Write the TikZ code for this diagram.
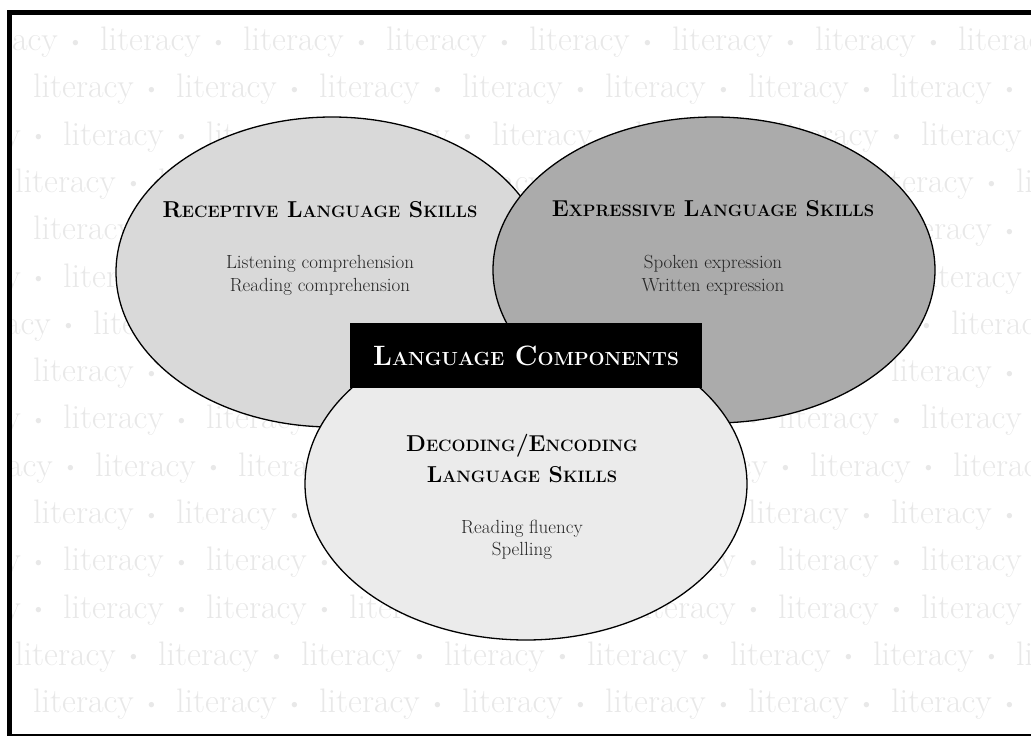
\documentclass[tikz,border=0pt]{standalone}
\usetikzlibrary{shapes.geometric}
\definecolor{litgray}{gray}{0.91}
\definecolor{recgray}{gray}{0.85}
\definecolor{expgray}{gray}{0.67}
\definecolor{decgray}{gray}{0.92}
% one repeated background word, with its bullet
\newcommand\litdot{\raisebox{1.5pt}{\fontsize{24}{24}\selectfont\textbullet}}
\newcommand\litword{\makebox[143pt][l]{literacy\hspace{9pt}\litdot}}
\newcommand\litrow{\litword\litword\litword\litword\litword\litword\litword\litword\litword}
% capital followed by smaller capitals
\newcommand\sk[2]{#1{\fontsize{16.5}{20}\selectfont#2}}
\newcommand\bigsk[2]{#1{\fontsize{19}{24}\selectfont#2}}
\begin{document}
\begin{tikzpicture}[x=1pt,y=-1pt,
    venn/.style={ellipse,draw,line width=1.3pt,inner sep=0pt},
    headtxt/.style={align=center,font=\fontsize{23}{31}\selectfont\bfseries},
    itemtxt/.style={align=center,text=black!85,font=\fontsize{19}{23}\selectfont}]
    \useasboundingbox (0,0) rectangle (1031,736);
    % background of repeated words
    \begin{scope}
        \clip (10,12) rectangle (1031,736);
        \foreach \off [count=\k] in {100,33,63,15,33,63,93,33,63,95,33,63,63,15,33}
            \node[anchor=base west,inner sep=0pt,text=litgray,font=\fontsize{34}{34}\selectfont]%
            (row\k) at (\off-143,50.5+47.3*\k-47.3) {\litrow};
    \end{scope}
    \draw[line width=4.5pt] (9.5,12.5) rectangle (1045,736);
    % the three skill areas
    \node[venn,fill=recgray,minimum width=432,minimum height=310] (rec) at (332,272) {};
    \node[venn,fill=expgray,minimum width=442,minimum height=306] (expr) at (714,270) {};
    \node[venn,fill=decgray,minimum width=442,minimum height=312] (dec) at (526,484) {};
    \node[fill=black,text=white,inner sep=0pt,minimum width=352,minimum height=65,%
        font=\fontsize{28}{34}\selectfont\bfseries] (comp) at (526,355.5)
        {\bigsk{L}{ANGUAGE} \bigsk{C}{OMPONENTS}};
    % labels
    \node[headtxt] (rectitle) at (320,210) {\sk{R}{ECEPTIVE} \sk{L}{ANGUAGE} \sk{S}{KILLS}};
    \node[itemtxt] (recitems) at (320,275) {Listening comprehension\\Reading comprehension};
    \node[headtxt] (exptitle) at (713,209) {\sk{E}{XPRESSIVE} \sk{L}{ANGUAGE} \sk{S}{KILLS}};
    \node[itemtxt] (expitems) at (713,275) {Spoken expression\\Written expression};
    \node[headtxt] (dectitle) at (522,458.5) {\sk{D}{ECODING}/\sk{E}{NCODING}\\\sk{L}{ANGUAGE} \sk{S}{KILLS}};
    \node[itemtxt,font=\fontsize{19}{22}\selectfont] (decitems) at (522,540) {Reading fluency\\Spelling};
\end{tikzpicture}
\end{document}
